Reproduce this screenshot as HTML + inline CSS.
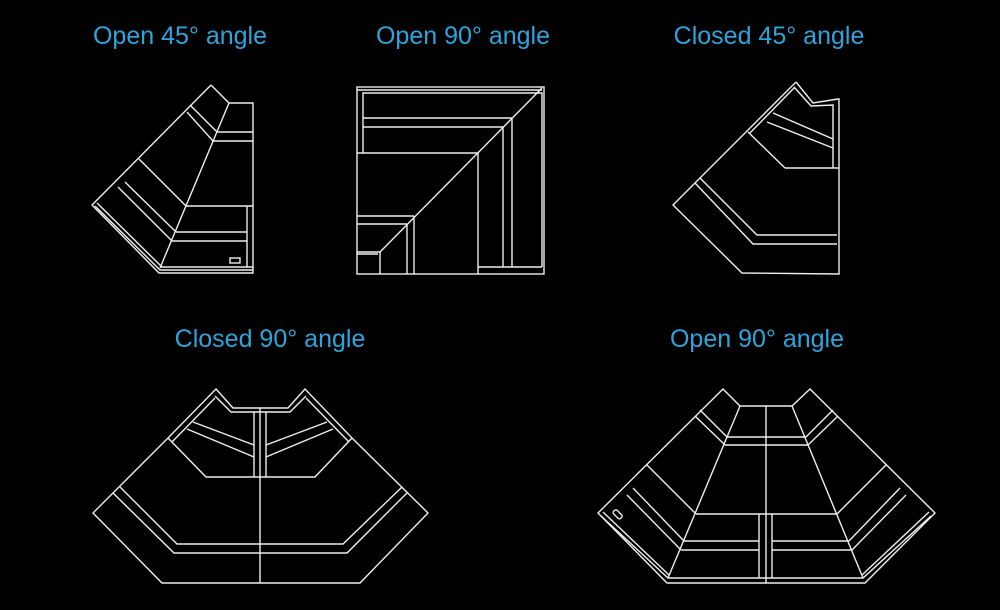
<!DOCTYPE html>
<html><head><meta charset="utf-8"><style>
html,body{margin:0;padding:0;background:#000;width:1000px;height:610px;overflow:hidden}
svg{display:block}
text{font-family:"Liberation Sans",sans-serif;font-size:25px;fill:#2ba6dc;text-anchor:middle}
</style></head><body>
<svg width="1000" height="610" viewBox="0 0 1000 610">
<text x="180" y="44">Open 45° angle</text>
<text x="463" y="44">Open 90° angle</text>
<text x="769" y="44">Closed 45° angle</text>
<text x="270" y="347">Closed 90° angle</text>
<text x="757" y="347">Open 90° angle</text>
<g fill="none" stroke="#eee" stroke-width="1.4">
<!-- Open 45 -->
<polyline points="211,85 229,103 253,103 253,273 159,273 92,205 211,85"/>
<polyline points="95,206 160,270 253,270"/>
<line x1="97" y1="203" x2="162" y2="267"/>
<line x1="229" y1="103" x2="160" y2="268"/>
<line x1="217" y1="132" x2="253" y2="132"/><line x1="213" y1="141" x2="253" y2="141"/>
<line x1="190" y1="105" x2="217" y2="132"/><line x1="187" y1="112" x2="213" y2="141"/>
<line x1="139" y1="159" x2="186" y2="206"/><line x1="186" y1="206" x2="253" y2="206"/>
<line x1="125" y1="182" x2="176" y2="232"/><line x1="118" y1="187" x2="172" y2="241"/>
<line x1="176" y1="232" x2="247" y2="232"/><line x1="172" y1="241" x2="247" y2="241"/>
<line x1="247" y1="206" x2="247" y2="267"/><line x1="161" y1="267" x2="253" y2="267"/>
<rect x="230" y="258" width="10" height="5"/>
<!-- Open 90 top -->
<rect x="357" y="87" width="187" height="187"/>
<polyline points="363,153 363,93 542,93 542,267"/>
<line x1="357" y1="90" x2="542" y2="90"/>
<line x1="363" y1="118" x2="512" y2="118"/><line x1="363" y1="127" x2="503" y2="127"/>
<line x1="357" y1="153" x2="478" y2="153"/>
<line x1="542" y1="88" x2="380" y2="252"/>
<line x1="512" y1="118" x2="512" y2="267"/><line x1="503" y1="127" x2="503" y2="267"/>
<line x1="478" y1="153" x2="478" y2="274"/><line x1="478" y1="267" x2="542" y2="267"/>
<line x1="357" y1="216" x2="414" y2="216"/><line x1="357" y1="224" x2="407" y2="224"/>
<polyline points="357,252 380,252 380,274"/><line x1="357" y1="254" x2="378" y2="254"/>
<line x1="407" y1="224" x2="407" y2="274"/><line x1="414" y1="216" x2="414" y2="274"/>
<!-- Closed 45 -->
<polyline points="796,82 813,103 838,99 839,99 839,274 742,273 673,205 796,82"/>
<polyline points="794,87 811,106 833,105 833,168"/>
<line x1="748" y1="132" x2="785" y2="168"/><line x1="785" y1="168" x2="839" y2="168"/>
<line x1="750" y1="133" x2="795" y2="87"/>
<line x1="773" y1="113" x2="833" y2="139"/><line x1="767" y1="122" x2="833" y2="148"/>
<polyline points="700,178 757,235 837,235"/><polyline points="695,183 753,244 837,244"/>
<!-- Closed 90 -->
<polygon points="216,389 233,408 288,408 305,389 352,438 428,513 360,583 162,583 93,513 168,438"/>
<polyline points="215,396 231,412 290,412 306,396"/>
<line x1="260" y1="408" x2="260" y2="583"/>
<polyline points="168,438 206,477 315,477 352,438"/>
<line x1="215" y1="398" x2="172" y2="442"/><line x1="306" y1="398" x2="349" y2="442"/>
<line x1="254" y1="412" x2="254" y2="477"/><line x1="266" y1="412" x2="266" y2="477"/>
<line x1="193" y1="422" x2="254" y2="445"/><line x1="187" y1="429" x2="254" y2="457"/>
<line x1="327" y1="422" x2="266" y2="445"/><line x1="333" y1="429" x2="266" y2="457"/>
<polyline points="120,487 177,544 343,544 402,487"/>
<polyline points="113,493 174,553 347,553 407,493"/>
<!-- Open 90 bottom -->
<polygon points="723,389 740,406 792,406 810,389 935,513 865,583 667,583 598,513"/>
<polyline points="601,516 668,578 863,578 931,516"/>
<line x1="603" y1="512" x2="669" y2="575"/><line x1="929" y1="512" x2="862" y2="575"/>
<line x1="740" y1="406" x2="668" y2="578"/><line x1="792" y1="406" x2="863" y2="578"/>
<line x1="766" y1="406" x2="766" y2="583"/>
<line x1="727" y1="437" x2="806" y2="437"/><line x1="725" y1="445" x2="808" y2="445"/>
<line x1="696" y1="514" x2="837" y2="514"/>
<line x1="684" y1="541" x2="759" y2="541"/><line x1="681" y1="550" x2="759" y2="550"/>
<line x1="772" y1="541" x2="849" y2="541"/><line x1="772" y1="550" x2="852" y2="550"/>
<line x1="759" y1="514" x2="759" y2="578"/><line x1="772" y1="514" x2="772" y2="578"/>
<line x1="700" y1="410" x2="727" y2="437"/><line x1="695" y1="416" x2="725" y2="445"/>
<line x1="833" y1="410" x2="806" y2="437"/><line x1="838" y1="416" x2="808" y2="445"/>
<line x1="647" y1="465" x2="696" y2="514"/><line x1="886" y1="465" x2="837" y2="514"/>
<line x1="633" y1="488" x2="684" y2="541"/><line x1="627" y1="495" x2="681" y2="550"/>
<line x1="900" y1="488" x2="849" y2="541"/><line x1="906" y1="495" x2="852" y2="550"/>
<rect x="613" y="512" width="10" height="5" rx="2" transform="rotate(45 618 514)"/>
</g>
</svg>
</body></html>
